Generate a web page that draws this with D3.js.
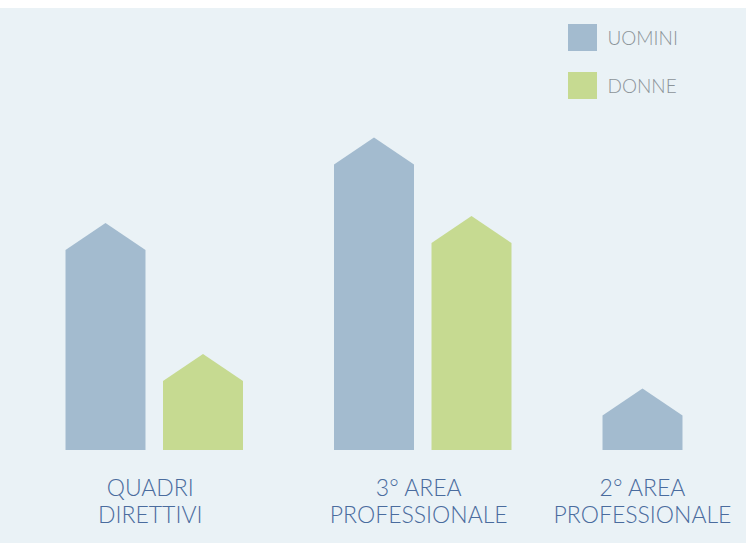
<!DOCTYPE html>
<html><head><meta charset="utf-8">
<script src="https://cdn.jsdelivr.net/npm/d3@7"></script>
<style>html,body{margin:0;padding:0;background:#fff;}svg{display:block;}</style>
</head><body>
<svg id="c" width="746" height="543"></svg>
<script>
const categories = ["QUADRI DIRETTIVI", "3° AREA PROFESSIONALE", "2° AREA PROFESSIONALE"];
const labelLines = [["QUADRI", "DIRETTIVI"], ["3° AREA", "PROFESSIONALE"], ["2° AREA", "PROFESSIONALE"]];
const seriesNames = ["UOMINI", "DONNE"];
const uomini = [29, 41.4, 5];
const donne = [10, 30, null];
const colors = ["#A3BBCF", "#C6DA91"];

const svg = d3.select("#c");
svg.append("rect").attr("x", 0).attr("y", 8).attr("width", 746).attr("height", 535).attr("fill", "#EAF2F6");

const x0 = d3.scaleBand().domain(categories).range([65.5, 871]).paddingInner(0).paddingOuter(0);
const x1 = d3.scaleBand().domain(seriesNames).range([0, 177.5]).paddingInner(17.5 / 97.5).paddingOuter(0);
const y = d3.scaleLinear().domain([0, 50]).range([450, 105.2]);
const roof = 27;

const data = [];
categories.forEach((c, i) => {
  [uomini, donne].forEach((arr, s) => {
    if (arr[i] != null) data.push({cat: c, series: seriesNames[s], value: arr[i], color: colors[s]});
  });
});

svg.append("g").selectAll("path").data(data).join("path")
  .attr("fill", d => d.color)
  .attr("d", d => {
    const l = x0(d.cat) + x1(d.series), r = l + x1.bandwidth(), m = (l + r) / 2;
    const top = y(d.value), b = y(0);
    return `M${l},${b}L${l},${top}L${m},${top - roof}L${r},${top}L${r},${b}Z`;
  });

// category labels
const lab = svg.append("g").attr("font-family", "Lato, 'Open Sans', sans-serif").attr("font-weight", 300)
  .attr("font-size", 23).attr("fill", "#4A6C9E").attr("text-anchor", "middle");
categories.forEach((c, i) => {
  const present = seriesNames.filter((s, k) => [uomini, donne][k][i] != null);
  const l = x0(c) + x1(present[0]);
  const r = x0(c) + x1(present[present.length - 1]) + x1.bandwidth();
  const cx = (l + r) / 2 - (present.length > 1 ? 4 : 0);
  const t = lab.append("text").attr("x", cx).attr("y", 496);
  labelLines[i].forEach((ln, j) => {
    t.append("tspan").attr("x", cx).attr("dy", j === 0 ? 0 : 26.5).text(ln);
  });
});

// legend
const leg = svg.append("g").selectAll("g").data(seriesNames).join("g")
  .attr("transform", (d, i) => `translate(568,${24 + i * 48})`);
leg.append("rect").attr("width", 29).attr("height", 27).attr("fill", (d, i) => colors[i]);
leg.append("text").attr("x", 39.5).attr("y", 21).attr("font-family", "Lato, 'Open Sans', sans-serif")
  .attr("font-weight", 300).attr("font-size", 19).attr("fill", "#8C9499").text(d => d);
</script>
</body></html>
